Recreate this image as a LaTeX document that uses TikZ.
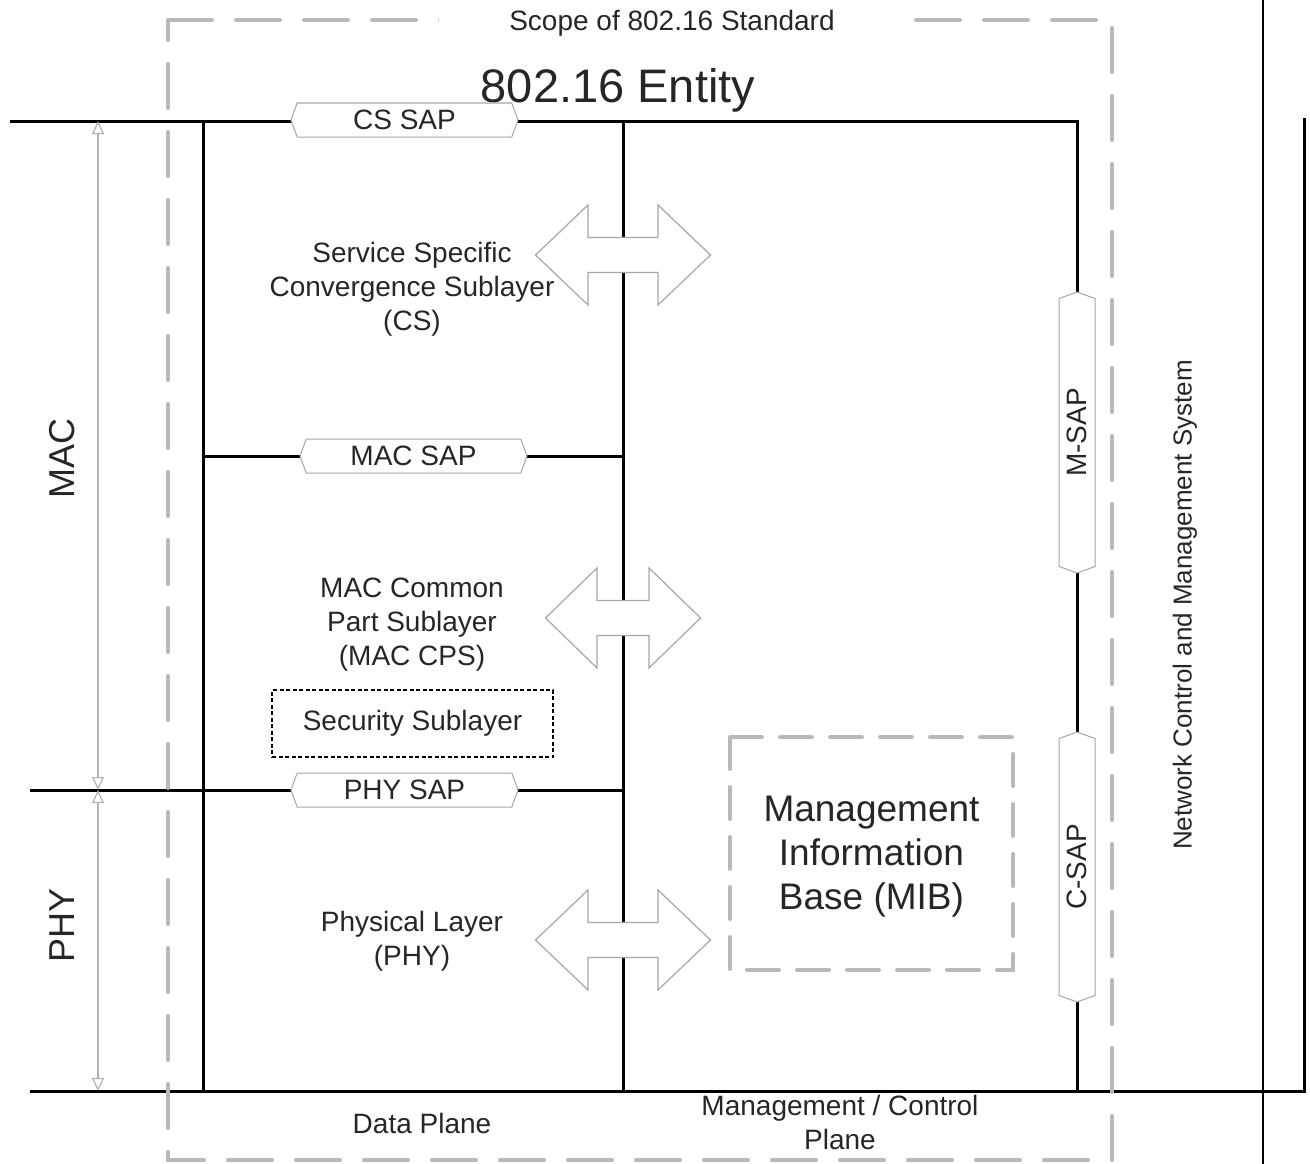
\documentclass[tikz,border=0pt]{standalone}
\usepackage{fontspec}
\setmainfont{Liberation Sans}
\usetikzlibrary{positioning,arrows.meta,calc,shapes.symbols}

\begin{document}
\begin{tikzpicture}[
  x=1pt, y=-1pt,
  font=\fontsize{28}{34}\selectfont, text=black!85,
  bus/.style={line width=3pt, black},
  thinbus/.style={line width=2pt, black},
  scopebox/.style={draw=gray!55, line width=4pt, dash pattern=on 44pt off 24pt, line cap=round},
  mibbox/.style={draw=gray!55, line width=4pt, dash pattern=on 32pt off 18pt, line cap=round},
  sap/.style={shape=signal, signal to=west and east, signal pointer angle=140,
              draw=gray!70, fill=white, line width=1pt, inner sep=0pt,
              minimum width=227pt, minimum height=34pt},
  vsap/.style={sap, rotate=90, minimum height=36pt},
  dim/.style={draw=gray!60, line width=1.2pt, {Triangle[open, length=13pt, width=12pt]}-{Triangle[open, length=13pt, width=12pt]}},
  dblarrow/.style={draw=gray!70, fill=white, line width=1.2pt, line join=miter},
  label/.style={align=center},
  big/.style={font=\fontsize{36}{40}\selectfont},
]
\useasboundingbox (0,0) rectangle (1310,1164);

% junction points of the layer frame
\coordinate (topL) at (10,121);
\coordinate (dataT) at (203,121);
\coordinate (dataB) at (203,1091);
\coordinate (midT) at (623,121);
\coordinate (midB) at (623,1091);
\coordinate (mgmtT) at (1077,121);
\coordinate (mgmtB) at (1077,1091);
\coordinate (botL) at (30,1091);
\coordinate (botR) at (1304,1091);
\coordinate (nmsT) at (1304,118);
\coordinate (macL) at (203,456);
\coordinate (macR) at (623,456);
\coordinate (phyL) at (30,790);
\coordinate (phyR) at (623,790);
\coordinate (sysT) at (1263,0);
\coordinate (sysB) at (1263,1164);

\draw[bus] (topL) -- (mgmtT) -- (mgmtB);
\draw[bus] (dataT) -- (dataB);
\draw[bus] (midT) -- (midB);
\draw[bus] (botL) -- (botR) -- (nmsT);
\draw[bus] (macL) -- (macR);
\draw[bus] (phyL) -- (phyR);
\draw[thinbus] (sysT) -- (sysB);

% MAC / PHY extent
\coordinate (dimT) at (98,121);
\coordinate (dimM) at (98,790);
\coordinate (dimB) at (98,1091);
\draw[dim] (dimT) -- (dimM);
\draw[dim] (dimM) -- (dimB);
\node[big, rotate=90] (mac) at (62,458) {MAC};
\node[big, rotate=90] (phy) at (62,925) {PHY};

% scope of the standard
\draw[scopebox] (168,20) -- (1112,20) -- (1112,1160) -- (168,1160) -- cycle;
\node[fill=white, inner xsep=70pt, inner ysep=2pt] (scope) at (672,23) {Scope of 802.16 Standard};
\node[font=\fontsize{47}{52}\selectfont] (entity) at (618,90) {802.16 Entity};

% service access points
\node[sap] (cssap) at (404.5,120) {CS SAP};
\node[sap] (macsap) at (413.5,456) {MAC SAP};
\node[sap] (physap) at (404.5,790) {PHY SAP};
\node[vsap, minimum width=281pt] (msap) at (1077,432.5) {M-SAP};
\node[vsap, minimum width=270pt] (csap) at (1077,867) {C-SAP};

% data plane sublayers
\node[label] (cs) at (412,289) {Service Specific\\Convergence Sublayer\\(CS)};
\node[label] (cps) at (412,625) {MAC Common\\Part Sublayer\\(MAC CPS)};
\node[draw=black, line width=2pt, dash pattern=on 4pt off 2.5pt,
      minimum width=281pt, minimum height=67pt] (sec) at (412.5,723.5) {Security Sublayer};
\node[label] (phyl) at (412,941) {Physical Layer\\(PHY)};

% arrows across the plane boundary
\foreach \y/\l/\h in {255/87.5/35, 618/77.5/26, 940/87.5/35} {
  \draw[dblarrow] (623-\l,\y) -- (623-\h,\y-50) -- (623-\h,\y-17.5) -- (623+\h,\y-17.5)
    -- (623+\h,\y-50) -- (623+\l,\y) -- (623+\h,\y+50) -- (623+\h,\y+17.5)
    -- (623-\h,\y+17.5) -- (623-\h,\y+50) -- cycle;
}

% management plane
\draw[mibbox] (730,737) rectangle (1013,970);
\node[label, font=\fontsize{37}{44}\selectfont] (mib) at (871.5,857) {Management\\Information\\Base (MIB)};
\node[rotate=90, font=\fontsize{26}{30}\selectfont] (nms) at (1185,605) {Network Control and Management System};

\node (dplane) at (422,1123) {Data Plane};
\node[label] (mplane) at (840,1122) {Management / Control\\Plane};
\end{tikzpicture}
\end{document}
